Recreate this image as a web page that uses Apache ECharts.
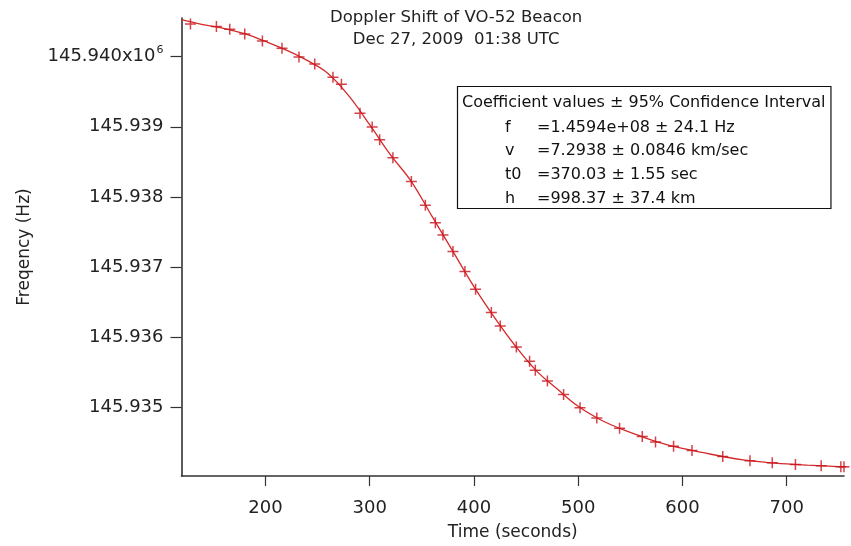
<!DOCTYPE html>
<html>
<head>
<meta charset="utf-8">
<script src="https://cdn.jsdelivr.net/npm/echarts@6/dist/echarts.min.js"></script>
<style>
html,body{margin:0;padding:0;background:#fff;}
#chart{width:851px;height:546px;}
</style>
</head>
<body>
<div id="chart"></div>
<script>
// Measured data (time in seconds, frequency in Hz)
const times = [128.1,153.0,165.8,180.2,197.1,215.9,232.2,247.3,264.8,272.9,290.7,302.4,309.6,322.3,340.0,353.4,363.0,370.3,379.9,391.4,401.6,416.7,425.3,440.7,453.4,458.9,470.5,486.0,501.8,517.9,539.7,561.5,574.2,591.5,609.2,638.7,664.8,686.2,708.4,733.1,752.0,755.0];
const freqs = [145940465,145940427,145940390,145940320,145940223,145940118,145939993,145939893,145939707,145939606,145939193,145938996,145938817,145938559,145938221,145937883,145937634,145937460,145937225,145936941,145936686,145936356,145936165,145935863,145935662,145935535,145935380,145935187,145935000,145934855,145934708,145934591,145934511,145934451,145934391,145934305,145934246,145934215,145934193,145934173,145934159,145934159];
// Fit curve
const fitTimes = [119.5,140,160,180,200,220,240,260,280,300,320,340,360,380,400,420,440,460,480,500,520,540,560,580,600,620,640,660,680,700,720,740,755];
const fitFreqs = [145940525,145940455,145940400,145940325,145940215,145940092,145939945,145939760,145939440,145939030,145938600,145938220,145937720,145937222,145936725,145936280,145935875,145935525,145935265,145935020,145934840,145934705,145934595,145934495,145934420,145934360,145934302,145934255,145934223,145934200,145934183,145934168,145934157];
// Tick values
const xTicks = [200,300,400,500,600,700];
const yTicks = [145935000,145936000,145937000,145938000,145939000,145940000];
// Text
const titleLines = ["Doppler Shift of VO-52 Beacon", "Dec 27, 2009  01:38 UTC"];
const boxHeader = "Coefficient values \u00B1 95% Confidence Interval";
const coefNames = ["f","v","t0","h"];
const coefValues = ["=1.4594e+08 \u00B1 24.1 Hz","=7.2938 \u00B1 0.0846 km/sec","=370.03 \u00B1 1.55 sec","=998.37 \u00B1 37.4 km"];

const FONT = '"DejaVu Sans", Verdana, sans-serif';
const red = '#d42a2a';

function measure(t, size){
  const c = document.createElement('canvas').getContext('2d');
  c.font = size + 'px ' + FONT;
  return c.measureText(t).width;
}

const chart = echarts.init(document.getElementById('chart'));

const boxFont = 16;
const boxW = Math.min(measure(boxHeader, boxFont) + 10, 388);
const titleFont = 16.5;
const titleCx = 330 + measure(titleLines[0], titleFont) / 2;

const graphics = [
  {type:'text', x:titleCx, y:18, style:{text:titleLines[0], font:titleFont+'px '+FONT, fill:'#222', align:'center', verticalAlign:'middle'}},
  {type:'text', x:titleCx, y:40, style:{text:titleLines[1], font:titleFont+'px '+FONT, fill:'#222', align:'center', verticalAlign:'middle'}},
  {type:'rect', shape:{x:457.5, y:86.5, width:boxW, height:122}, style:{fill:'#fff', stroke:'#111', lineWidth:1.2}, z:10},
  {type:'text', x:462, y:103, z:11, style:{text:boxHeader, font:boxFont+'px '+FONT, fill:'#111', verticalAlign:'middle'}}
];
const rowY = [127.5, 151, 175, 198.5];
coefNames.forEach((n,i)=>{
  graphics.push({type:'text', x:505, y:rowY[i], z:11, style:{text:n, font:boxFont+'px '+FONT, fill:'#111', verticalAlign:'middle'}});
  graphics.push({type:'text', x:537, y:rowY[i], z:11, style:{text:coefValues[i], font:boxFont+'px '+FONT, fill:'#111', verticalAlign:'middle'}});
});

const option = {
  animation:false,
  backgroundColor:'#fff',
  textStyle:{fontFamily:FONT},
  grid:{left:181.5, right:7, top:18, bottom:65, containLabel:false},
  xAxis:{
    type:'value', min:119.5, max:755,
    name:'Time (seconds)', nameLocation:'middle', nameGap:48,
    nameTextStyle:{fontSize:17, color:'#222', fontFamily:FONT},
    axisLine:{show:true, lineStyle:{color:'#333', width:1.6}},
    axisTick:{show:true, length:10, customValues:xTicks, lineStyle:{color:'#333', width:1.2}},
    axisLabel:{customValues:xTicks, fontSize:18, color:'#222', margin:23, fontFamily:FONT},
    splitLine:{show:false}
  },
  yAxis:{
    type:'value', min:145934028, max:145940549,
    name:'Freqency (Hz)', nameLocation:'middle', nameGap:148,
    nameTextStyle:{fontSize:17, color:'#222', fontFamily:FONT},
    axisLine:{show:true, lineStyle:{color:'#333', width:1.6}},
    axisTick:{show:true, length:11, customValues:yTicks, lineStyle:{color:'#333', width:1.2}},
    axisLabel:{customValues:yTicks, fontSize:18, color:'#222', margin:18, fontFamily:FONT,
      formatter:function(v){
        const s = (v/1e6).toFixed(3);
        return v === yTicks[yTicks.length-1] ? s + 'x10{sup|6}' : s;
      },
      rich:{sup:{fontSize:11, color:'#222', padding:[0,0,12,1], fontFamily:FONT}}
    },
    splitLine:{show:false}
  },
  series:[
    {type:'line', data:fitTimes.map((t,i)=>[t,fitFreqs[i]]), smooth:0.4, showSymbol:false,
     lineStyle:{color:red, width:1.3}, z:2, clip:true},
    {type:'scatter', data:times.map((t,i)=>[t,freqs[i]]), symbol:'path://M0,5L10,5M5,0L5,10', symbolSize:11,
     itemStyle:{color:'rgba(0,0,0,0)', borderColor:'#c8141c', borderWidth:1.5}, z:3, clip:false}
  ],
  graphic:graphics
};
chart.setOption(option);
</script>
</body>
</html>
